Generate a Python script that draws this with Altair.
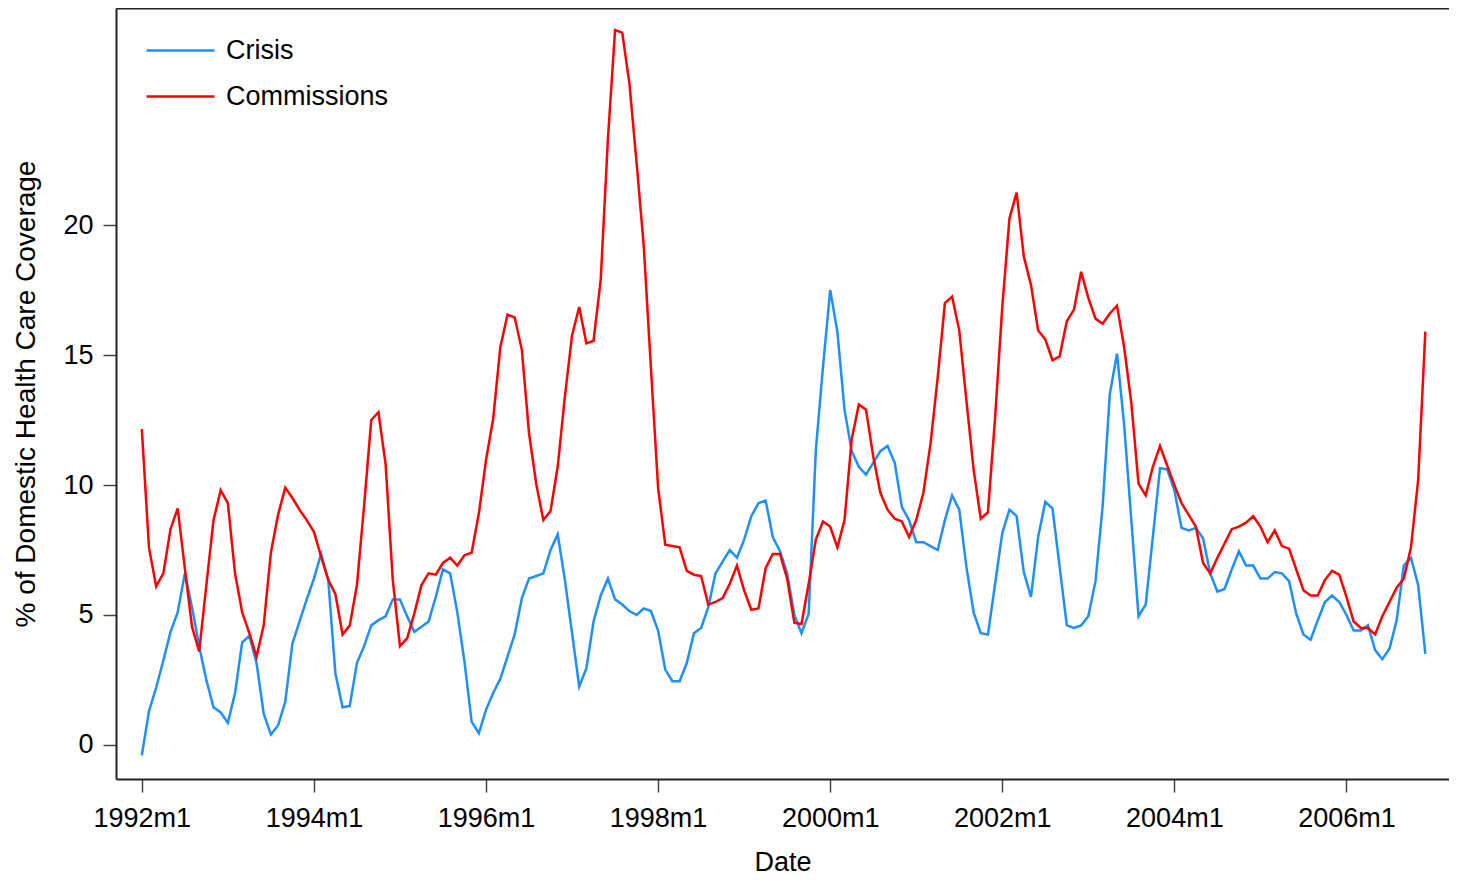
import altair as alt
import pandas as pd

# Monthly labels, 1992m1 .. 2006m12
months = [f"{y}m{m}" for y in range(1992, 2007) for m in range(1, 13)]

crisis = [
    -0.4, 1.3, 2.2, 3.25, 4.35, 5.1, 6.6, 5.3, 3.8, 2.5, 1.45, 1.25,
    0.85, 2.0, 3.95, 4.2, 3.15, 1.2, 0.4, 0.75, 1.65, 3.9, 4.75, 5.6,
    6.4, 7.35, 6.35, 2.75, 1.45, 1.5, 3.15, 3.8, 4.6, 4.8, 4.95, 5.6,
    5.6, 4.95, 4.35, 4.55, 4.75, 5.7, 6.75, 6.6, 5.1, 3.2, 0.9, 0.45,
    1.35, 2.0, 2.55, 3.4, 4.25, 5.65, 6.4, 6.5, 6.6, 7.5, 8.1, 6.35,
    4.3, 2.25, 2.95, 4.75, 5.75, 6.4, 5.6, 5.4, 5.15, 5.0, 5.25, 5.15,
    4.4, 2.9, 2.45, 2.45, 3.15, 4.3, 4.5, 5.3, 6.6, 7.05, 7.5, 7.2,
    7.9, 8.8, 9.3, 9.4, 8.0, 7.45, 6.6, 5.0, 4.3, 5.05, 11.35, 14.55,
    17.5, 15.9, 12.9, 11.3, 10.7, 10.4, 10.85, 11.3, 11.5, 10.85, 9.15, 8.65,
    7.8, 7.8, 7.65, 7.5, 8.65, 9.6, 9.05, 6.85, 5.1, 4.3, 4.25, 6.2,
    8.15, 9.05, 8.8, 6.65, 5.7, 8.0, 9.35, 9.1, 6.85, 4.6, 4.5, 4.6,
    4.95, 6.3, 9.2, 13.5, 15.05, 12.3, 8.65, 4.95, 5.4, 8.0, 10.65, 10.6,
    9.8, 8.35, 8.25, 8.35, 7.95, 6.6, 5.9, 6.0, 6.75, 7.45, 6.9, 6.9,
    6.4, 6.4, 6.65, 6.6, 6.3, 5.05, 4.25, 4.05, 4.8, 5.5, 5.75, 5.5,
    5.0, 4.4, 4.4, 4.6, 3.65, 3.3, 3.7, 4.8, 6.9, 7.2, 6.15, 3.5,
]

commissions = [
    12.15, 7.6, 6.1, 6.6, 8.3, 9.1, 6.8, 4.55, 3.6, 6.15, 8.65, 9.8,
    9.3, 6.6, 5.1, 4.3, 3.4, 4.6, 7.4, 8.85, 9.9, 9.5, 9.05, 8.65,
    8.2, 7.25, 6.35, 5.8, 4.25, 4.6, 6.15, 9.2, 12.5, 12.8, 10.8, 6.35,
    3.8, 4.1, 5.05, 6.15, 6.6, 6.55, 7.0, 7.2, 6.9, 7.3, 7.4, 8.9,
    10.95, 12.55, 15.3, 16.55, 16.45, 15.2, 12.0, 10.05, 8.65, 9.0, 10.7, 13.4,
    15.75, 16.85, 15.45, 15.55, 17.9, 23.3, 27.5, 27.4, 25.45, 22.4, 19.2, 14.5,
    9.9, 7.7, 7.65, 7.6, 6.7, 6.55, 6.5, 5.4, 5.5, 5.65, 6.2, 6.9,
    5.95, 5.2, 5.25, 6.8, 7.35, 7.35, 6.4, 4.7, 4.65, 6.2, 7.9, 8.6,
    8.4, 7.6, 8.65, 11.75, 13.1, 12.9, 11.1, 9.7, 9.05, 8.7, 8.6, 8.0,
    8.65, 9.7, 11.6, 14.15, 17.0, 17.25, 15.95, 13.25, 10.6, 8.7, 8.95, 12.6,
    16.85, 20.25, 21.25, 18.8, 17.7, 15.95, 15.6, 14.8, 14.95, 16.3, 16.75, 18.2,
    17.2, 16.4, 16.2, 16.6, 16.9, 15.3, 13.15, 10.05, 9.6, 10.7, 11.5, 10.75,
    10.0, 9.3, 8.85, 8.4, 7.0, 6.6, 7.2, 7.75, 8.3, 8.4, 8.55, 8.8,
    8.4, 7.8, 8.25, 7.65, 7.55, 6.75, 5.95, 5.75, 5.75, 6.35, 6.7, 6.55,
    5.7, 4.75, 4.5, 4.5, 4.25, 4.95, 5.5, 6.05, 6.4, 7.6, 10.2, 15.9,
]

series_names = ["Crisis", "Commissions"]
series_colors = ["#1E8FFF", "#FF0000"]
x_tick_values = [0, 24, 48, 72, 96, 120, 144, 168]
y_tick_values = [0, 5, 10, 15, 20]

rows = []
for name, vals in zip(series_names, [crisis, commissions]):
    for i, (lab, v) in enumerate(zip(months, vals)):
        rows.append({"t": i, "date": lab, "series": name, "value": v})
df = pd.DataFrame(rows)

FONT = "Liberation Sans"
FRAME = "#222222"

# Legend key: a horizontal stroke extending beyond the unit box
legend_key = "M-3,0L3,0"
key_size = 514  # sqrt(514) ~ 22.7 -> stroke length ~68px

x_scale = alt.Scale(domain=[-3.6, 182.3], nice=False, zero=False)
y_scale = alt.Scale(domain=[-1.31, 28.35], nice=False, zero=False)

lines = alt.Chart(df).mark_line(strokeWidth=2.5).encode(
    x=alt.X(
        "t:Q",
        scale=x_scale,
        axis=alt.Axis(
            values=x_tick_values,
            labelExpr="(1992 + floor(datum.value / 12)) + 'm1'",
            title="Date",
            grid=False,
            domain=True,
            domainColor=FRAME,
            domainWidth=2,
            tickSize=13,
            tickWidth=1.5,
            tickColor="#444",
            labelPadding=13,
            labelFontSize=27,
            labelFont=FONT,
            labelColor="#000",
            titleFont=FONT,
            titleFontSize=27,
            titleFontWeight="normal",
            titleColor="#000",
            titlePadding=18,
        ),
    ),
    y=alt.Y(
        "value:Q",
        scale=y_scale,
        axis=alt.Axis(
            values=y_tick_values,
            title="% of Domestic Health Care Coverage",
            grid=False,
            domain=True,
            domainColor=FRAME,
            domainWidth=2,
            tickSize=13,
            tickWidth=1.5,
            tickColor="#444",
            labelPadding=10,
            labelFontSize=27,
            labelFont=FONT,
            labelColor="#000",
            titleFont=FONT,
            titleFontSize=28,
            titleFontWeight="normal",
            titleColor="#000",
            titlePadding=22,
        ),
    ),
    color=alt.Color(
        "series:N",
        scale=alt.Scale(domain=series_names, range=series_colors),
        legend=alt.Legend(
            title=None,
            orient="none",
            legendX=51,
            legendY=29,
            padding=0,
            symbolType=legend_key,
            symbolSize=key_size,
            symbolStrokeWidth=2.5,
            labelFont=FONT,
            labelFontSize=27,
            labelColor="#000",
            labelOffset=32,
            labelLimit=0,
            rowPadding=18,
        ),
    ),
    detail="series:N",
)

# Top frame line: a second x axis on top with only its domain line
top_frame = alt.Chart(df).mark_line(opacity=0).encode(
    x=alt.X(
        "t:Q",
        scale=x_scale,
        axis=alt.Axis(
            orient="top",
            labels=False,
            ticks=False,
            grid=False,
            title=None,
            domain=True,
            domainColor=FRAME,
            domainWidth=2,
        ),
    ),
    y=alt.Y("value:Q", scale=y_scale, axis=None),
    detail="series:N",
)

chart = alt.layer(lines, top_frame).resolve_axis(
    x="independent", y="independent"
).properties(
    width=1333,
    height=771,
    autosize=alt.AutoSizeParams(type="none"),
    padding={"left": 108, "top": 0, "right": 0, "bottom": 96},
).configure_view(stroke=None)

chart.save("out.html", embed_options={"renderer": "svg", "actions": False})
